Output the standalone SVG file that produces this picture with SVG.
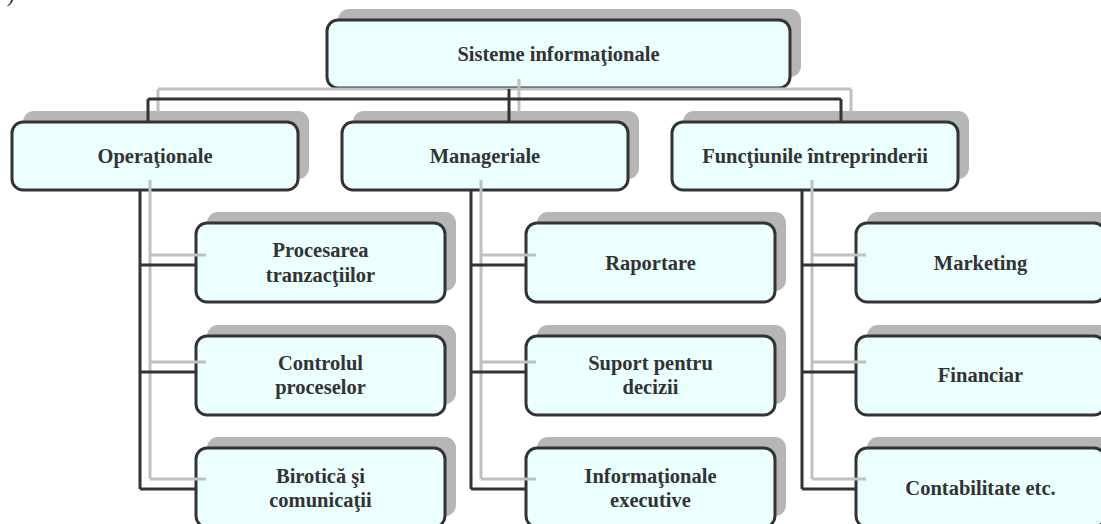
<svg xmlns="http://www.w3.org/2000/svg" width="1101" height="524" viewBox="0 0 1101 524">
  <defs>
    <style>
      .shadow { fill: #b6b6b6; }
      .box { fill: #ebffff; stroke: #333333; stroke-width: 3; }
      .lbl { font-family: "Liberation Serif", "Times New Roman", serif; font-weight: bold; font-size: 20.5px; fill: #333333; text-anchor: middle; }
      .link { fill: none; stroke: #333333; stroke-width: 3; }
      .link-shade { fill: none; stroke: #c0c0c0; stroke-width: 3; }
    </style>
  </defs>

  <rect width="1101" height="524" fill="#ffffff"/>
  <text x="8" y="2" font-family="Liberation Serif, serif" font-style="italic" font-size="20" fill="#222">)</text>

  <!-- root -->
  <g id="node-root">
    <rect class="shadow" x="338" y="9" width="463" height="68" rx="11"/>
    <rect class="box" x="327" y="20" width="463" height="68" rx="11"/>
    <text class="lbl" x="558.5" y="61">Sisteme informaţionale</text>
  </g>

  <!-- second level -->
  <g id="node-operationale">
    <rect class="shadow" x="23" y="111" width="286" height="68" rx="11"/>
    <rect class="box" x="12" y="122" width="286" height="68" rx="11"/>
    <text class="lbl" x="155" y="163">Operaţionale</text>
  </g>
  <g id="node-manageriale">
    <rect class="shadow" x="353" y="111" width="286" height="68" rx="11"/>
    <rect class="box" x="342" y="122" width="286" height="68" rx="11"/>
    <text class="lbl" x="485" y="163">Manageriale</text>
  </g>
  <g id="node-functiuni">
    <rect class="shadow" x="683" y="111" width="286" height="68" rx="11"/>
    <rect class="box" x="672" y="122" width="286" height="68" rx="11"/>
    <text class="lbl" x="815" y="163">Funcţiunile întreprinderii</text>
  </g>

  <!-- column 1 -->
  <g id="node-tranzactii">
    <rect class="shadow" x="207" y="212" width="249" height="79" rx="11"/>
    <rect class="box" x="196" y="223" width="249" height="79" rx="11"/>
    <text class="lbl" x="320.5" y="257">Procesarea</text>
    <text class="lbl" x="320.5" y="282">tranzacţiilor</text>
  </g>
  <g id="node-control">
    <rect class="shadow" x="207" y="325" width="249" height="79" rx="11"/>
    <rect class="box" x="196" y="336" width="249" height="79" rx="11"/>
    <text class="lbl" x="320.5" y="370">Controlul</text>
    <text class="lbl" x="320.5" y="394">proceselor</text>
  </g>
  <g id="node-birotica">
    <rect class="shadow" x="207" y="437" width="249" height="79" rx="11"/>
    <rect class="box" x="196" y="448" width="249" height="79" rx="11"/>
    <text class="lbl" x="320.5" y="483">Birotică şi</text>
    <text class="lbl" x="320.5" y="507">comunicaţii</text>
  </g>

  <!-- column 2 -->
  <g id="node-raportare">
    <rect class="shadow" x="537" y="212" width="249" height="79" rx="11"/>
    <rect class="box" x="526" y="223" width="249" height="79" rx="11"/>
    <text class="lbl" x="650.5" y="270">Raportare</text>
  </g>
  <g id="node-decizii">
    <rect class="shadow" x="537" y="325" width="249" height="79" rx="11"/>
    <rect class="box" x="526" y="336" width="249" height="79" rx="11"/>
    <text class="lbl" x="650.5" y="370">Suport pentru</text>
    <text class="lbl" x="650.5" y="394">decizii</text>
  </g>
  <g id="node-executive">
    <rect class="shadow" x="537" y="437" width="249" height="79" rx="11"/>
    <rect class="box" x="526" y="448" width="249" height="79" rx="11"/>
    <text class="lbl" x="650.5" y="483">Informaţionale</text>
    <text class="lbl" x="650.5" y="507">executive</text>
  </g>

  <!-- column 3 -->
  <g id="node-marketing">
    <rect class="shadow" x="867" y="212" width="249" height="79" rx="11"/>
    <rect class="box" x="856" y="223" width="249" height="79" rx="11"/>
    <text class="lbl" x="980.5" y="270">Marketing</text>
  </g>
  <g id="node-financiar">
    <rect class="shadow" x="867" y="325" width="249" height="79" rx="11"/>
    <rect class="box" x="856" y="336" width="249" height="79" rx="11"/>
    <text class="lbl" x="980.5" y="382">Financiar</text>
  </g>
  <g id="node-contabilitate">
    <rect class="shadow" x="867" y="437" width="249" height="79" rx="11"/>
    <rect class="box" x="856" y="448" width="249" height="79" rx="11"/>
    <text class="lbl" x="980.5" y="495">Contabilitate etc.</text>
  </g>

  <!-- connectors: light offset copy underneath, dark lines on top -->
  <g id="connectors">
    <g class="link-shade" transform="translate(10,-10)">
      <path d="M148 99 H841 M148 99 V122 M509 89 V122 M841 99 V122"/>
      <path d="M140 190 V489 M140 265 H196 M140 372 H196 M140 489 H196"/>
      <path d="M471 190 V489 M471 265 H526 M471 372 H526 M471 489 H526"/>
      <path d="M802 190 V489 M802 265 H856 M802 372 H856 M802 489 H856"/>
    </g>
    <g class="link">
      <path d="M148 99 H841 M148 99 V122 M509 89 V122 M841 99 V122"/>
      <path d="M140 190 V489 M140 265 H196 M140 372 H196 M140 489 H196"/>
      <path d="M471 190 V489 M471 265 H526 M471 372 H526 M471 489 H526"/>
      <path d="M802 190 V489 M802 265 H856 M802 372 H856 M802 489 H856"/>
    </g>
  </g>
</svg>
